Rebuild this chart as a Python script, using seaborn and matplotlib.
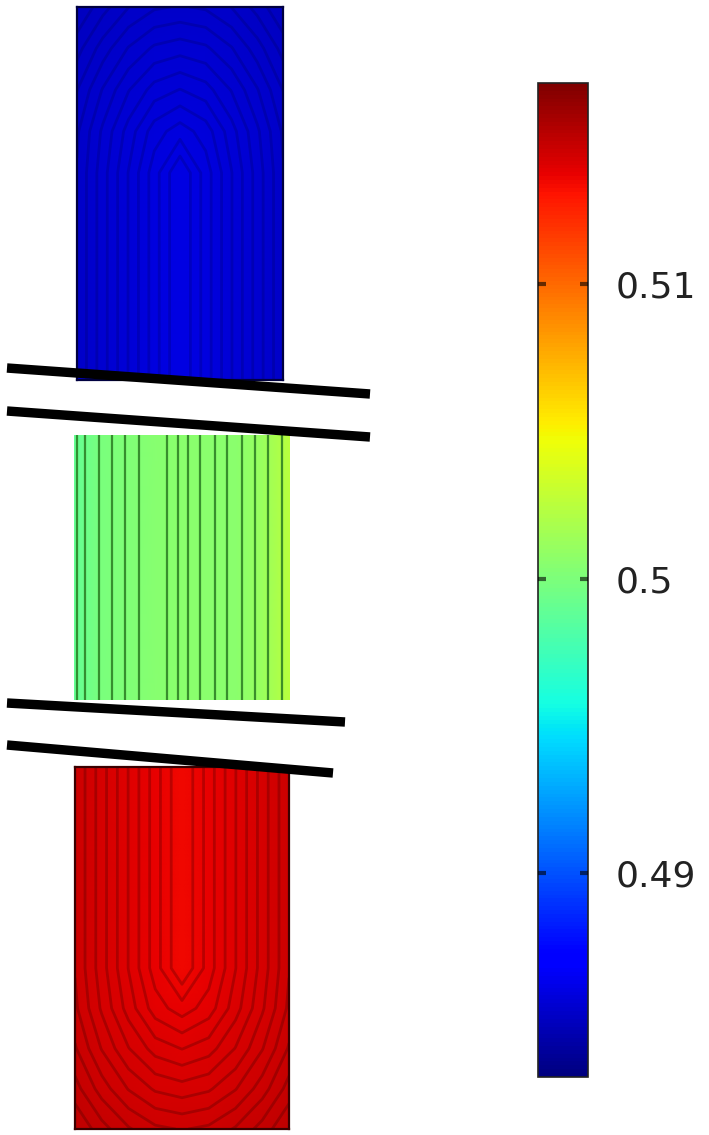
import numpy as np
import matplotlib
matplotlib.use("Agg")
import matplotlib.pyplot as plt
import seaborn as sns

# ---------------- data ----------------
vmin, vmax = 0.4831, 0.5168
cbar_ticks = [0.49, 0.50, 0.51]
cbar_ticklabels = ["0.49", "0.5", "0.51"]

# upper section (rows top -> bottom)
top_field = [
    [0.48497, 0.48510, 0.48521, 0.48528, 0.48530, 0.48528, 0.48521, 0.48510, 0.48497],
    [0.48510, 0.48525, 0.48538, 0.48547, 0.48550, 0.48547, 0.48538, 0.48525, 0.48510],
    [0.48521, 0.48538, 0.48553, 0.48565, 0.48570, 0.48565, 0.48553, 0.48538, 0.48521],
    [0.48528, 0.48547, 0.48565, 0.48582, 0.48590, 0.48582, 0.48565, 0.48547, 0.48528],
    [0.48530, 0.48550, 0.48570, 0.48590, 0.48610, 0.48590, 0.48570, 0.48550, 0.48530],
    [0.48530, 0.48550, 0.48570, 0.48590, 0.48610, 0.48590, 0.48570, 0.48550, 0.48530],
    [0.48530, 0.48550, 0.48570, 0.48590, 0.48610, 0.48590, 0.48570, 0.48550, 0.48530],
    [0.48530, 0.48550, 0.48570, 0.48590, 0.48610, 0.48590, 0.48570, 0.48550, 0.48530],
    [0.48530, 0.48550, 0.48570, 0.48590, 0.48610, 0.48590, 0.48570, 0.48550, 0.48530],
    [0.48530, 0.48550, 0.48570, 0.48590, 0.48610, 0.48590, 0.48570, 0.48550, 0.48530],
]
# middle section
mid_field = [
    [0.4990, 0.4999, 0.5002, 0.5004, 0.5006, 0.5005, 0.5006, 0.5012, 0.5025],
    [0.4990, 0.4999, 0.5002, 0.5004, 0.5006, 0.5005, 0.5006, 0.5012, 0.5025],
]
mid_streamlines = [0.012, 0.049, 0.115, 0.177, 0.238, 0.300, 0.431, 0.480,
                   0.530, 0.585, 0.654, 0.708, 0.777, 0.838, 0.900, 0.962]
# lower section
bot_field = [
    [0.51450, 0.51425, 0.51400, 0.51375, 0.51350, 0.51375, 0.51400, 0.51425, 0.51450],
    [0.51450, 0.51425, 0.51400, 0.51375, 0.51350, 0.51375, 0.51400, 0.51425, 0.51450],
    [0.51450, 0.51425, 0.51400, 0.51375, 0.51350, 0.51375, 0.51400, 0.51425, 0.51450],
    [0.51450, 0.51425, 0.51400, 0.51375, 0.51350, 0.51375, 0.51400, 0.51425, 0.51450],
    [0.51450, 0.51425, 0.51400, 0.51375, 0.51350, 0.51375, 0.51400, 0.51425, 0.51450],
    [0.51450, 0.51425, 0.51400, 0.51375, 0.51350, 0.51375, 0.51400, 0.51425, 0.51450],
    [0.51453, 0.51429, 0.51406, 0.51385, 0.51375, 0.51385, 0.51406, 0.51429, 0.51453],
    [0.51462, 0.51440, 0.51421, 0.51406, 0.51400, 0.51406, 0.51421, 0.51440, 0.51462],
    [0.51475, 0.51456, 0.51440, 0.51429, 0.51425, 0.51429, 0.51440, 0.51456, 0.51475],
    [0.51491, 0.51475, 0.51462, 0.51453, 0.51450, 0.51453, 0.51462, 0.51475, 0.51491],
]

# ---------------- layout ----------------
W, H = 709, 1135
sns.set_style("white")
plt.rcParams["font.family"] = ["DejaVu Sans"]
fig = plt.figure(figsize=(W / 100, H / 100), dpi=100)


def box(x0, y0, x1, y1):
    return [x0 / W, 1 - y1 / H, (x1 - x0) / W, (y1 - y0) / H]


ax_top = fig.add_axes(box(77, 7, 283, 380))
ax_mid = fig.add_axes(box(74, 435, 290, 700))
ax_bot = fig.add_axes(box(75, 767, 289, 1129))
cax = fig.add_axes(box(538, 83, 588, 1077))

common = dict(cmap="jet", vmin=vmin, vmax=vmax, xticklabels=False,
              yticklabels=False, shading="gouraud")

sns.heatmap(np.array(top_field), ax=ax_top, cbar=True, cbar_ax=cax, **common)
sns.heatmap(np.array(mid_field), ax=ax_mid, cbar=False, **common)
sns.heatmap(np.array(bot_field), ax=ax_bot, cbar=False, **common)

styles = [(ax_top, top_field, "#000040", 0.2),
          (ax_mid, mid_field, None, 0),
          (ax_bot, bot_field, "#3a0000", 0.28)]
for ax, data, col, alpha in styles:
    arr = np.array(data)
    nr, nc = arr.shape
    ax.set_xlim(0, nc - 1)
    ax.set_ylim(nr - 1, 0)
    ax.set_xticks([])
    ax.set_yticks([])
    if col is not None:
        lo, hi = arr.min(), arr.max()
        ax.contour(np.arange(nc), np.arange(nr), arr,
                   levels=np.linspace(lo, hi, 15)[1:-1],
                   colors=col, linewidths=2.0, alpha=alpha)
        for s in ax.spines.values():
            s.set_visible(True)
            s.set_color(col)
            s.set_linewidth(1.6)
    else:
        ax.vlines(np.array(mid_streamlines) * (nc - 1), 0, nr - 1,
                  colors="#2a7a22", linewidth=1.6, alpha=0.85)

cb = ax_top.collections[0].colorbar
cb.ax.set_axisbelow(False)
cb.set_ticks(cbar_ticks)
cb.set_ticklabels(cbar_ticklabels)
cb.outline.set_linewidth(1.2)
cb.outline.set_edgecolor("#222222")
cb.ax.tick_params(axis="y", direction="in", left=True, right=True, length=5.5,
                  width=3, color=(0, 0, 0, 0.6), labelsize=26,
                  labelcolor="#222222", pad=20)

# ---------------- axis-break marks ----------------
ov = fig.add_axes([0, 0, 1, 1], zorder=10)
ov.set_xlim(0, W)
ov.set_ylim(H, 0)
ov.axis("off")
ov.patch.set_alpha(0)
for (x0, y0), (x1, y1) in [((7, 368), (370, 394)), ((7, 411), (370, 437)),
                           ((7, 703), (345, 722)), ((7, 745), (333, 773))]:
    ov.plot([x0, x1], [y0, y1], color="black", linewidth=6.8,
            solid_capstyle="butt")

fig.savefig("out.png", dpi=100)
